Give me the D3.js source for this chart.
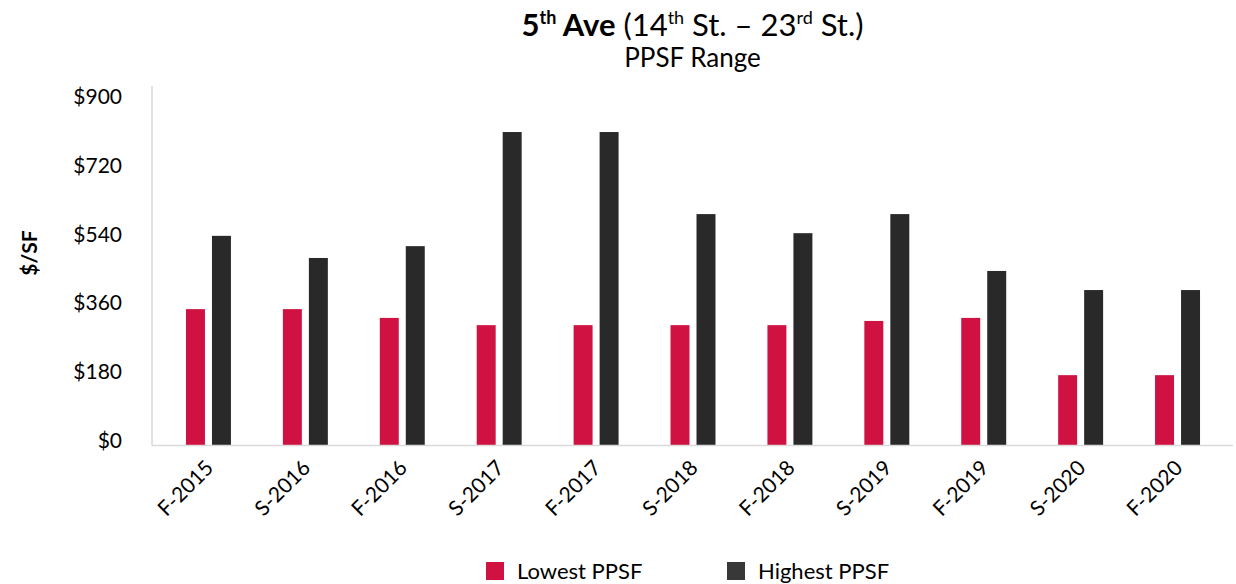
<!DOCTYPE html>
<html>
<head>
<meta charset="utf-8">
<script src="https://cdn.jsdelivr.net/npm/d3@7/dist/d3.min.js"></script>
<style>
  html, body { margin: 0; padding: 0; background: #ffffff; }
  svg { display: block; font-family: Lato, "Noto Sans", sans-serif; }
</style>
</head>
<body>
<svg id="chart" width="1236" height="584"></svg>
<script>
const categories = ["F-2015","S-2016","F-2016","S-2017","F-2017","S-2018","F-2018","S-2019","F-2019","S-2020","F-2020"];
const lowestPPSF  = [356, 356, 333, 314, 314, 314, 314, 325, 333, 183, 183];
const highestPPSF = [548, 490, 521, 820, 820, 605, 555, 605, 456, 406, 406];
const seriesNames = ["Lowest PPSF", "Highest PPSF"];
const seriesColors = ["#CF1242", "#292929"];
const legendColors = ["#CF1242", "#383838"];
const yTicks = [0, 180, 360, 540, 720, 900];

const svg = d3.select("#chart");

const y = d3.scaleLinear().domain([0, 900]).range([445, 101.5]);
const x = d3.scaleBand().domain(categories).range([160, 1226]).paddingInner(0.536).paddingOuter(0.268);
const xs = d3.scaleBand().domain([0, 1]).range([0, x.bandwidth()]).paddingInner(0.27).paddingOuter(0);

const data = categories.map((c, i) => ({ cat: c, vals: [lowestPPSF[i], highestPPSF[i]] }));

// Title
const title = svg.append("text").attr("x", 692.5).attr("y", 36).attr("text-anchor", "middle")
  .attr("font-size", 31).attr("fill", "#000");
title.append("tspan").attr("font-weight", "bold").text("5");
title.append("tspan").attr("font-weight", "bold").attr("font-size", 18).attr("dy", -12).text("th");
title.append("tspan").attr("font-weight", "bold").attr("dy", 12).text(" Ave");
title.append("tspan").text(" (14");
title.append("tspan").attr("font-size", 18).attr("dy", -12).text("th");
title.append("tspan").attr("dy", 12).text(" St. – 23");
title.append("tspan").attr("font-size", 18).attr("dy", -12).text("rd");
title.append("tspan").attr("dy", 12).text(" St.)");

svg.append("text").attr("x", 692.5).attr("y", 67).attr("text-anchor", "middle")
  .attr("font-size", 26).attr("fill", "#000").text("PPSF Range");

// Y axis
const yAxis = d3.axisLeft(y).tickValues(yTicks).tickSize(0).tickPadding(0).tickFormat(d => "$" + d);
const yg = svg.append("g").attr("transform", "translate(122,0)").call(yAxis);
yg.select(".domain").remove();
yg.selectAll("text").attr("font-size", 21).attr("fill", "#000").attr("font-family", "Lato")
  .attr("dy", "0.1em");

// axis lines
svg.append("line").attr("x1", 152).attr("x2", 152).attr("y1", 86).attr("y2", 445.5)
  .attr("stroke", "#d9d9d9").attr("stroke-width", 1.5);

// bars
const groups = svg.append("g").selectAll("g").data(data).join("g")
  .attr("transform", d => `translate(${x(d.cat)},0)`);
groups.selectAll("rect").data(d => d.vals.map((v, k) => ({ v, k }))).join("rect")
  .attr("x", d => xs(d.k))
  .attr("width", xs.bandwidth())
  .attr("y", d => y(d.v))
  .attr("height", d => y(0) - y(d.v))
  .attr("fill", d => seriesColors[d.k]);

svg.append("line").attr("x1", 152).attr("x2", 1233).attr("y1", 445.5).attr("y2", 445.5)
  .attr("stroke", "#d9d9d9").attr("stroke-width", 1.5);

// X axis labels
const xAxis = d3.axisBottom(x).tickSize(0).tickPadding(0);
const xg = svg.append("g").call(xAxis);
xg.select(".domain").remove();
xg.selectAll(".tick").attr("transform", d => `translate(${x(d) + x.bandwidth() / 2},0)`);
xg.selectAll("text")
  .attr("font-size", 21).attr("fill", "#000").attr("font-family", "Lato")
  .attr("text-anchor", "end")
  .attr("y", 0).attr("dy", "0.35em")
  .attr("transform", "translate(1,464) rotate(-45)");

// Y axis title
svg.append("text").attr("transform", "translate(37,253) rotate(-90)")
  .attr("text-anchor", "middle").attr("font-size", 21).attr("font-weight", "bold")
  .attr("fill", "#000").text("$/SF");

// Legend
const legendX = [486, 727];
const lg = svg.append("g");
seriesNames.forEach((n, i) => {
  lg.append("rect").attr("x", legendX[i]).attr("y", 562).attr("width", 18).attr("height", 18)
    .attr("fill", legendColors[i]);
  lg.append("text").attr("x", legendX[i] + 31).attr("y", 579).attr("font-size", 22)
    .attr("fill", "#000").text(n);
});
</script>
</body>
</html>
